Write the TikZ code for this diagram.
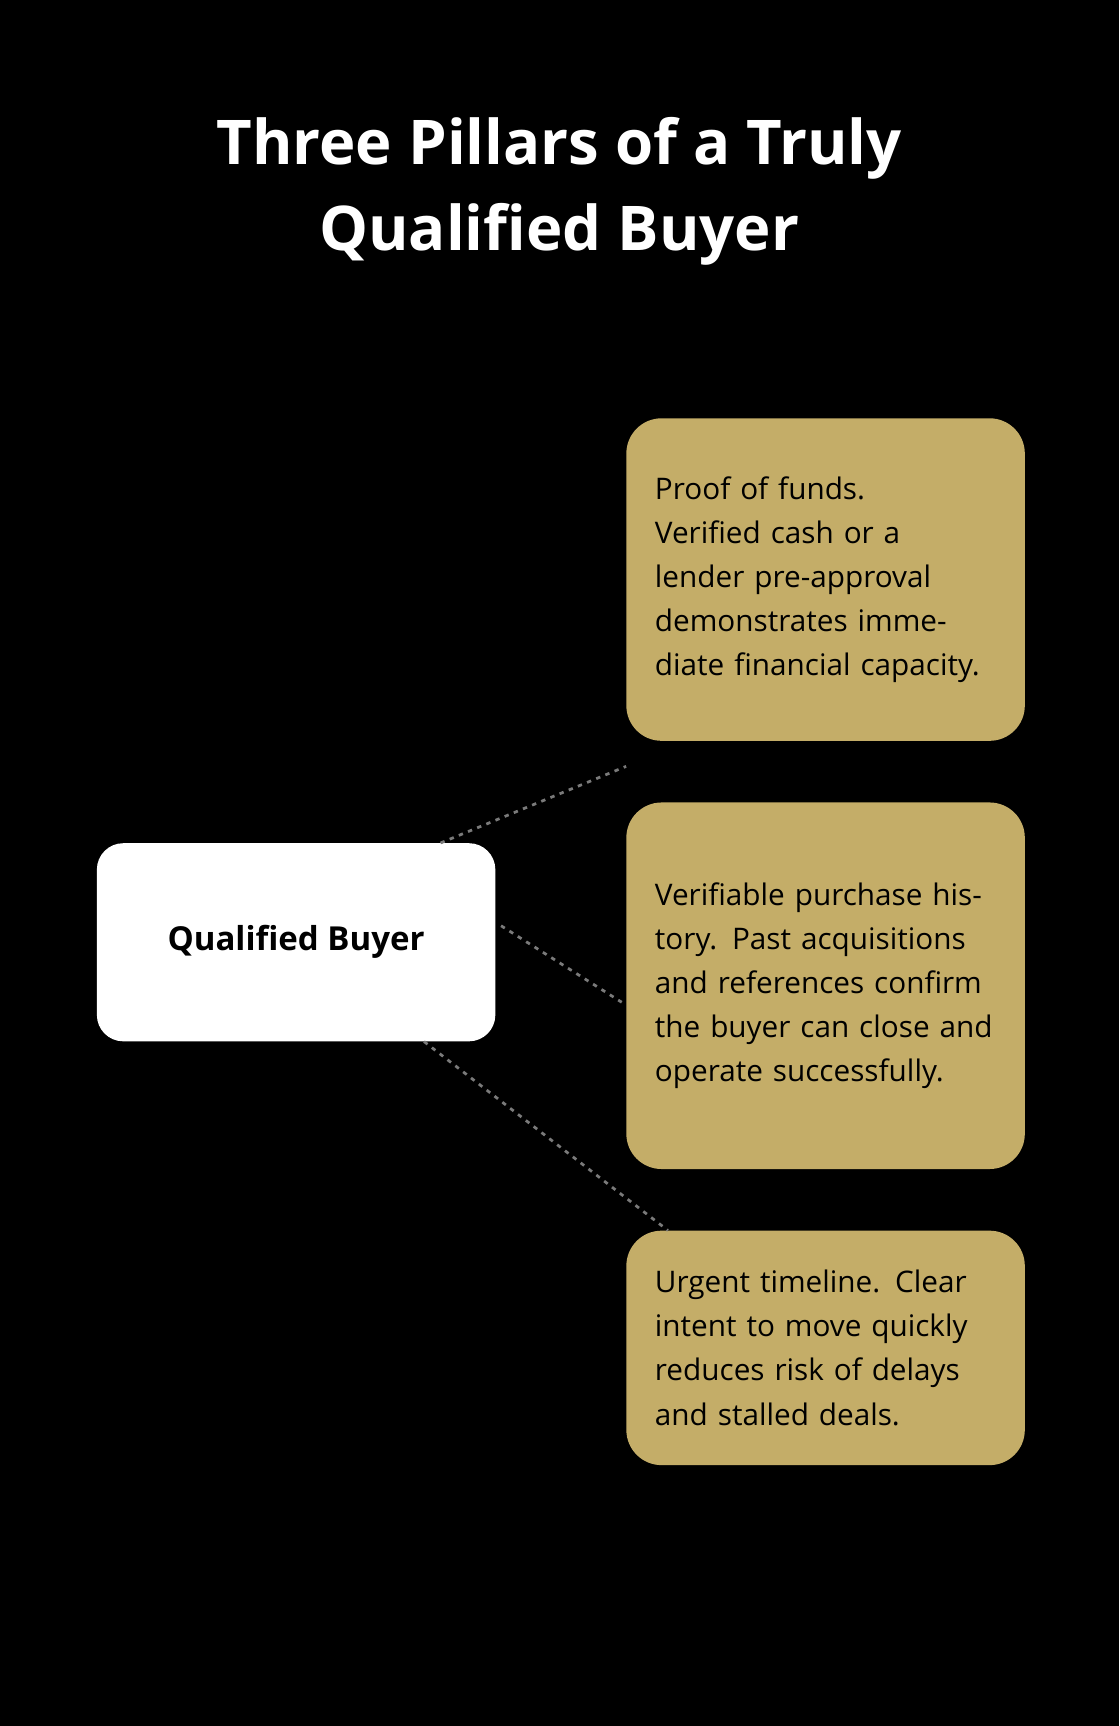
\documentclass[tikz,border=0pt]{standalone}
\usepackage{fontspec}
\setmainfont{Open Sans}
\definecolor{gold}{HTML}{C4AD68}
\definecolor{linkgray}{HTML}{7A7A7A}
\begin{document}
\begin{tikzpicture}[x=1pt,y=-1pt]
	\tikzstyle{pillar}=[fill=gold,rounded corners=32pt,minimum width=362pt,text width=310pt,align=left,inner sep=0pt,font=\fontsize{27}{40}\selectfont]
	\tikzstyle{hub}=[fill=white,rounded corners=24pt,minimum width=362pt,minimum height=180pt,font=\fontsize{30}{36}\selectfont\bfseries]
	\tikzstyle{link}=[linkgray,line width=2.5pt,dash pattern=on 4pt off 5pt]
	\fill[black] (0,0) rectangle (1017,1568);
	\useasboundingbox (0,0) rectangle (1017,1568);
	\node[white,font=\fontsize{56}{78}\selectfont\bfseries,align=center] (title) at (508,174) {Three Pillars of a Truly\\Qualified Buyer};
	\node[hub] (qb) at (269,856) {Qualified Buyer};
	\node[pillar,minimum height=293pt] (funds) at (750,526.5) {Proof of funds.\\Verified cash or a lender pre-approval demonstrates immediate financial capacity.};
	\node[pillar,minimum height=333pt] (history) at (750,895.5) {Verifiable purchase history. Past acquisitions and references confirm the buyer can close and operate successfully.};
	\node[pillar,minimum height=213pt] (timeline) at (750,1224.5) {Urgent timeline. Clear intent to move quickly reduces risk of delays and stalled deals.};

	\draw[link] ([xshift=-50pt]qb.north east) -- ([yshift=-23pt]funds.south west);
	\draw[link] ([xshift=5pt,yshift=15pt]qb.east) -- ([xshift=-4pt,yshift=-15pt]history.west);
	\draw[link] ([xshift=-65pt]qb.south east) -- ([xshift=38pt]timeline.north west);
\end{tikzpicture}
\end{document}
